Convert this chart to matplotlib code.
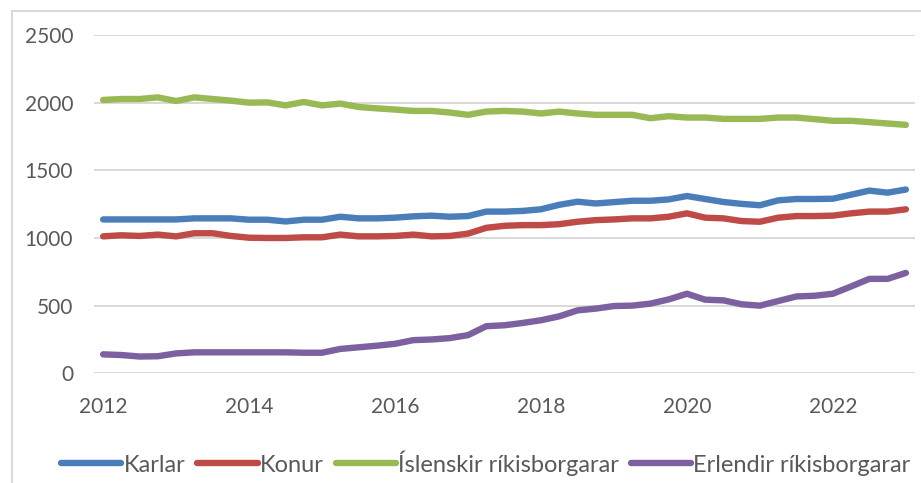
import numpy as np
import matplotlib
matplotlib.use("Agg")
import matplotlib.pyplot as plt
from matplotlib.lines import Line2D

plt.rcParams['font.family'] = ['Lato', 'DejaVu Sans']

# quarterly, 2012Q1 .. 2023Q1
years = np.arange(2012, 2023.01, 0.25)

karlar = [1137, 1137, 1137, 1137, 1137, 1145, 1145, 1145, 1135, 1135,
          1122, 1135, 1135, 1157, 1145, 1145, 1150, 1160, 1165, 1157,
          1162, 1195, 1195, 1200, 1212, 1245, 1268, 1255, 1265, 1275,
          1275, 1285, 1310, 1288, 1266, 1252, 1242, 1278, 1288, 1288,
          1290, 1320, 1350, 1335, 1358]
konur = [1012, 1020, 1015, 1025, 1012, 1035, 1035, 1015, 1002, 1000,
         1000, 1005, 1005, 1025, 1012, 1012, 1015, 1025, 1012, 1015,
         1032, 1075, 1090, 1095, 1095, 1102, 1120, 1132, 1137, 1145,
         1145, 1157, 1182, 1150, 1145, 1125, 1120, 1150, 1162, 1162,
         1165, 1182, 1195, 1195, 1212]
islenskir = [2020, 2027, 2027, 2039, 2012, 2039, 2027, 2015, 2000, 2002,
             1980, 2005, 1980, 1993, 1968, 1958, 1949, 1939, 1939, 1927,
             1910, 1934, 1939, 1934, 1920, 1934, 1920, 1910, 1910, 1910,
             1885, 1900, 1890, 1890, 1880, 1880, 1880, 1890, 1890, 1878,
             1866, 1866, 1856, 1846, 1836]
erlendir = [140, 135, 124, 126, 147, 155, 155, 155, 155, 155,
            155, 152, 152, 180, 192, 204, 218, 245, 250, 260,
            282, 348, 355, 372, 392, 421, 465, 478, 497, 500,
            515, 546, 588, 544, 539, 510, 500, 534, 568, 573,
            588, 642, 698, 698, 742]

labels = ["Karlar", "Konur", "Íslenskir ríkisborgarar", "Erlendir ríkisborgarar"]
colors = ["#4A7EBB", "#BE4B48", "#98B954", "#7D60A0"]
series = [karlar, konur, islenskir, erlendir]

TEXT = "#595959"
GRID = "#D9D9D9"
LW = 4.6

fig = plt.figure(figsize=(9.21, 4.83), dpi=100)
W, H = 921, 483
ax = fig.add_axes([94 / W, 1 - 373.3 / H, (915 - 94) / W, (373.3 - 35) / H])

for vals, col, lab in zip(series, colors, labels):
    ax.plot(years, vals, color=col, lw=LW, solid_capstyle='round',
            solid_joinstyle='round', label=lab, zorder=3)

ax.set_xlim(2011.875, 2023.125)
ax.set_ylim(0, 2500)
ax.set_yticks(range(0, 2501, 500))
ax.set_xticks(range(2012, 2023, 2))
ax.grid(axis='y', color=GRID, lw=1.4, zorder=0)
ax.set_axisbelow(True)
for s in ax.spines.values():
    s.set_visible(False)
ax.tick_params(length=0, labelsize=15, labelcolor=TEXT)
ax.tick_params(axis='y', pad=15)
ax.tick_params(axis='x', pad=17)

# legend
handles = [Line2D([], [], color=c, lw=LW, solid_capstyle='round') for c in colors]
fig.legend(handles, labels, loc='center', bbox_to_anchor=(486 / W, 1 - 463 / H),
           ncol=4, frameon=False, fontsize=17, labelcolor=TEXT,
           handlelength=2.55, handletextpad=0.1, columnspacing=0.5,
           borderaxespad=0)

# chart frame (left and top edges visible)
fig.add_artist(Line2D([12 / W, 12 / W], [0, 1 - 10.5 / H], color=GRID, lw=1.5))
fig.add_artist(Line2D([12 / W, 1], [1 - 10.5 / H, 1 - 10.5 / H], color=GRID, lw=1.5))

fig.savefig("out.png", dpi=100)
